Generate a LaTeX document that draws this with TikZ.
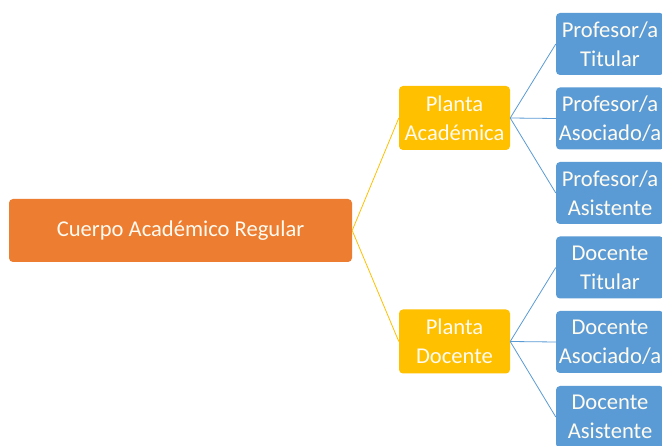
\documentclass[tikz,border=0pt]{standalone}
\usepackage{fontspec}
\setmainfont{Carlito}
\definecolor{corange}{HTML}{ED7D31}
\definecolor{cyellow}{HTML}{FFC000}
\definecolor{cblue}{HTML}{5B9BD5}
\definecolor{ctext}{HTML}{FFFBF0}
\begin{document}
\begin{tikzpicture}[x=1pt,y=-1pt,
  box/.style={rounded corners=4pt, inner sep=0pt, align=center, text=ctext,
    font=\fontsize{22.6}{29}\selectfont},
  rootbox/.style={box, fill=corange, minimum width=343pt, minimum height=63pt},
  midbox/.style={box, fill=cyellow, minimum width=111pt, minimum height=64pt},
  leafbox/.style={box, fill=cblue, minimum width=108pt, minimum height=62pt},
  yline/.style={draw=cyellow, line width=0.8pt},
  bline/.style={draw=cblue, line width=0.8pt}]
\useasboundingbox (0,0) rectangle (662,446);
\fill[white] (0,0) rectangle (662,446);
\node[rootbox] (root) at (180.5,230.5) {Cuerpo Académico Regular};
\node[midbox] (pa) at (454.5,118) {Planta\\Académica};
\node[midbox] (pd) at (454.5,341.5) {Planta\\Docente};
\node[leafbox] (l1) at (610,44) {Profesor/a\\Titular};
\node[leafbox] (l2) at (610,118.5) {Profesor/a\\Asociado/a};
\node[leafbox] (l3) at (610,193) {Profesor/a\\Asistente};
\node[leafbox] (l4) at (610,267.5) {Docente\\Titular};
\node[leafbox] (l5) at (610,342) {Docente\\Asociado/a};
\node[leafbox] (l6) at (610,417) {Docente\\Asistente};
\draw[yline] (root.east) -- (pa.west);
\draw[yline] (root.east) -- (pd.west);
\foreach \l in {l1,l2,l3} \draw[bline] (pa.east) -- (\l.west);
\foreach \l in {l4,l5,l6} \draw[bline] (pd.east) -- (\l.west);
\end{tikzpicture}
\end{document}
